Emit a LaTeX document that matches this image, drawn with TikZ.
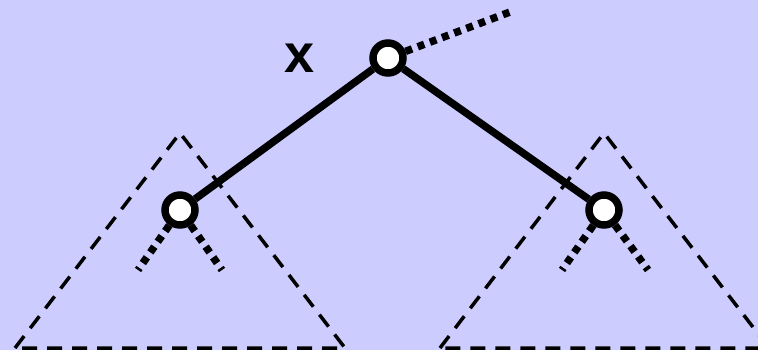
\documentclass[tikz,border=0pt]{standalone}
\usepackage{fontspec}
\setsansfont{Liberation Sans}
\definecolor{bgblue}{RGB}{204,204,255}
\tikzset{
    treenode/.style={circle, draw=black, fill=white, line width=7.5pt, minimum size=30pt, inner sep=0pt},
    edge/.style={line width=7.5pt},
    nilpart/.style={line width=7.5pt, dash pattern=on 7pt off 6pt},
    subtree/.style={line width=3.5pt, dash pattern=on 15pt off 10pt},
    label/.style={font=\sffamily\bfseries\fontsize{54}{54}\selectfont}
}
\begin{document}
\begin{tikzpicture}[x=1pt, y=-1pt]
    \useasboundingbox[fill=bgblue] (0,0) rectangle (758,350);
    % subtrees
    \coordinate (ltop) at (180,133);
    \coordinate (lleft) at (15,348);
    \coordinate (lright) at (345,348);
    \coordinate (rtop) at (604,133);
    \coordinate (rleft) at (440,348);
    \coordinate (rright) at (769,348);
    \draw [subtree] (lleft) -- (ltop) -- (lright) -- cycle;
    \draw [subtree] (rleft) -- (rtop) -- (rright) -- cycle;
    % dotted ends
    \coordinate (parent) at (510,12);
    \coordinate (lla) at (138,270);
    \coordinate (llb) at (222,270);
    \coordinate (rra) at (562,270);
    \coordinate (rrb) at (648,270);
    \node (xnode) [treenode] at (388,58) {};
    \node (lchild) [treenode] at (180,210) {};
    \node (rchild) [treenode] at (604,210) {};
    \node (xlabel) [label] at (300,58) {x};
    \draw [nilpart] (xnode) -- (parent);
    \draw [nilpart] (lchild) -- (lla);
    \draw [nilpart] (lchild) -- (llb);
    \draw [nilpart] (rchild) -- (rra);
    \draw [nilpart] (rchild) -- (rrb);
    \draw [edge] (xnode) -- (lchild);
    \draw [edge] (xnode) -- (rchild);
\end{tikzpicture}
\end{document}
